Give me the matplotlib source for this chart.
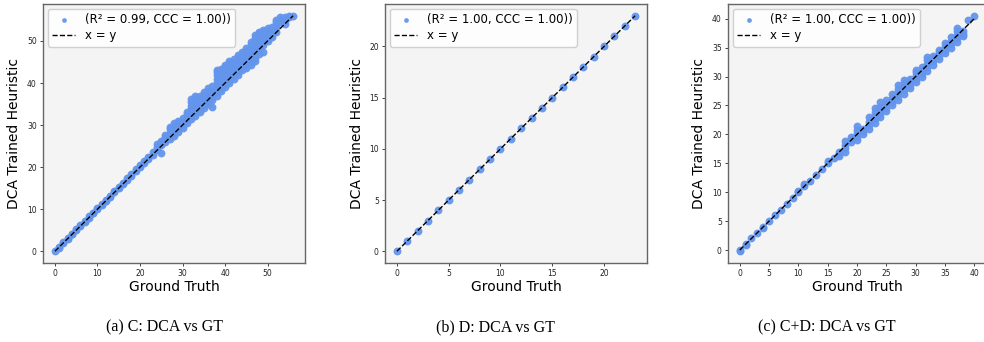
import matplotlib.pyplot as plt
import numpy as np

# ---- data ----
# (a) C: ground truth value and the predicted values seen at it
a_gt = list(range(0, 57))
a_preds = [
    [0], [0.8, 1.0], [2.0, 2.3], [3.0, 3.2], [4.0, 4.2], [5.0, 5.2], [6.0, 6.3],
    [7.0, 7.3], [8.0, 8.4], [9.0, 9.2], [10.0, 10.3], [11.0, 11.2], [12.0, 12.3],
    [13.0, 13.2], [14.0, 14.3], [15.0, 15.3], [16.0, 16.2], [17.0, 17.4],
    [18.0, 18.3], [19.0, 19.5], [20.0, 20.6], [21.0, 21.5], [22.0, 22.5],
    [23.0, 23.6], [24.0, 24.8, 25.4], [23.4, 25.2, 25.8, 26.2],
    [26.0, 26.6, 27.2, 27.6], [26.6, 27.4, 28.2, 29.0, 29.6],
    [27.4, 28.2, 29.0, 29.8, 30.4], [28.4, 29.2, 30.0, 30.6, 31.0],
    [29.4, 30.2, 31.0, 31.6], [30.4, 31.2, 32.0, 32.6, 33.2],
    [31.4, 32.2, 33.0, 33.8, 34.6, 35.4, 36.2], [32.2, 33.0, 33.8, 34.6, 35.4, 36.4, 37.0],
    [33.0, 33.8, 34.6, 35.4, 36.2, 37.0], [34.0, 34.8, 35.6, 36.4, 37.2, 37.8],
    [35.0, 35.8, 36.6, 37.4, 38.2, 38.8], [34.4, 36.0, 36.8, 37.6, 38.4, 39.2],
    [37.0, 37.8, 38.6, 39.4, 40.2, 41.0, 41.8, 42.6, 43.2],
    [38.0, 38.8, 39.6, 40.4, 41.2, 42.0, 42.8, 43.4],
    [39.0, 39.8, 40.6, 41.4, 42.2, 43.0, 43.8, 44.2],
    [40.0, 40.8, 41.6, 42.4, 43.2, 44.0, 44.8, 45.2],
    [41.0, 41.8, 42.6, 43.4, 44.2, 45.0, 45.6],
    [42.0, 42.8, 43.6, 44.4, 45.2, 46.0, 46.6],
    [43.0, 43.8, 44.6, 45.4, 46.2, 47.0, 47.4],
    [43.6, 44.4, 45.2, 46.0, 46.8, 47.6, 48.4],
    [44.2, 45.0, 45.8, 46.6, 47.4, 48.2, 49.0, 49.8],
    [45.2, 46.0, 46.8, 47.6, 48.4, 49.2, 50.0, 50.8, 51.4],
    [47.0, 47.8, 48.6, 49.4, 50.2, 51.0, 51.8, 52.2],
    [47.5, 49.0, 49.8, 50.6, 51.4, 52.2, 52.6],
    [50.0, 50.8, 51.6, 52.4, 53.0], [51.0, 51.8, 52.6, 53.4],
    [52.2, 53.0, 53.8, 54.6, 55.0], [54.4, 55.0, 55.6], [54.0, 54.8, 55.6],
    [55.6, 56.0], [56.0],
]

# (b) D: every point sits on the diagonal
b_gt = list(range(0, 24))
b_pred = list(range(0, 24))

# (c) C+D
c_gt = list(range(0, 41))
c_preds = [
    [-0.2, 0.0], [0.8, 1.0], [2.0], [3.0], [3.8, 4.0], [5.0], [6.0], [7.0],
    [8.0], [9.0], [10.0, 10.2], [11.0, 11.4], [12.0], [13.0], [14.0],
    [15.0, 15.4], [16.0], [16.2, 16.6, 17.0], [17.0, 17.6, 18.2, 18.8],
    [18.6, 19.2, 19.6], [19.0, 19.6, 20.2, 20.8, 21.4], [20.0, 20.6, 21.0],
    [21.0, 21.6, 22.2, 23.0], [22.0, 22.6, 23.2, 23.8, 24.6],
    [23.0, 23.6, 24.2, 24.8, 25.6], [24.0, 24.6, 25.2, 26.0],
    [25.0, 25.6, 26.2, 27.0], [26.0, 26.6, 27.2, 27.8, 28.6],
    [27.0, 27.6, 28.2, 28.8, 29.4], [28.0, 28.6, 29.2, 29.6],
    [29.0, 29.6, 30.2, 30.8, 31.2], [30.0, 30.6, 31.2, 31.6],
    [31.0, 31.6, 32.2, 32.8, 33.4], [32.0, 32.6, 33.2, 33.6],
    [33.0, 33.6, 34.2, 34.6], [34.0, 34.6, 35.2, 35.8],
    [35.0, 35.6, 36.2, 36.8], [36.0, 36.6, 37.2, 37.8, 38.4],
    [37.0, 37.4, 37.8], [39.7], [40.5],
]

legend_labels = ['(R² = 0.99, CCC = 1.00))', '(R² = 1.00, CCC = 1.00))',
                 '(R² = 1.00, CCC = 1.00))']
captions = ['(a) C: DCA vs GT', '(b) D: DCA vs GT', '(c) C+D: DCA vs GT']


def flatten(gts, preds):
    xs, ys = [], []
    for g, ps in zip(gts, preds):
        for p in ps:
            xs.append(g)
            ys.append(p)
    return xs, ys


a_x, a_y = flatten(a_gt, a_preds)
c_x, c_y = flatten(c_gt, c_preds)
panels = [(a_x, a_y), (b_gt, b_pred), (c_x, c_y)]

fig = plt.figure(figsize=(9.84, 3.42), dpi=100)
lefts = [43 / 984, 385 / 984, 728 / 984]
widths = [262 / 984, 262 / 984, 258 / 984]
bottom, height = (342 - 263) / 342, 259 / 342
cap_x = [165 / 984, 495 / 984, 827 / 984]

for i, (xs, ys) in enumerate(panels):
    ax = fig.add_axes([lefts[i], bottom, widths[i], height])
    ax.set_facecolor('#f4f4f4')
    ax.scatter(xs, ys, s=32, color='#6495ED', alpha=0.95, linewidths=0,
               label=legend_labels[i], zorder=2)
    ax.plot([0, max(xs)], [0, max(xs)], 'k--', lw=1, label='x = y', zorder=3)
    ax.set_xlabel('Ground Truth', fontsize=10, labelpad=1)
    ax.set_ylabel('DCA Trained Heuristic', fontsize=10, labelpad=4)
    ax.tick_params(labelsize=5.5, length=2.5, width=0.6, pad=2, colors='#222222')
    for sp in ax.spines.values():
        sp.set_color('#666666')
        sp.set_linewidth(1.0)
    ax.legend(loc='upper left', fontsize=8.5, frameon=True, framealpha=0.9,
              edgecolor='#cccccc', handlelength=2.0, borderpad=0.35,
              labelspacing=0.3, markerscale=0.6, borderaxespad=0.4)
    fig.text(cap_x[i], 0.044, captions[i], ha='center', va='center',
             family='Liberation Serif', fontsize=11.5)

fig.savefig('out.png', dpi=100)
